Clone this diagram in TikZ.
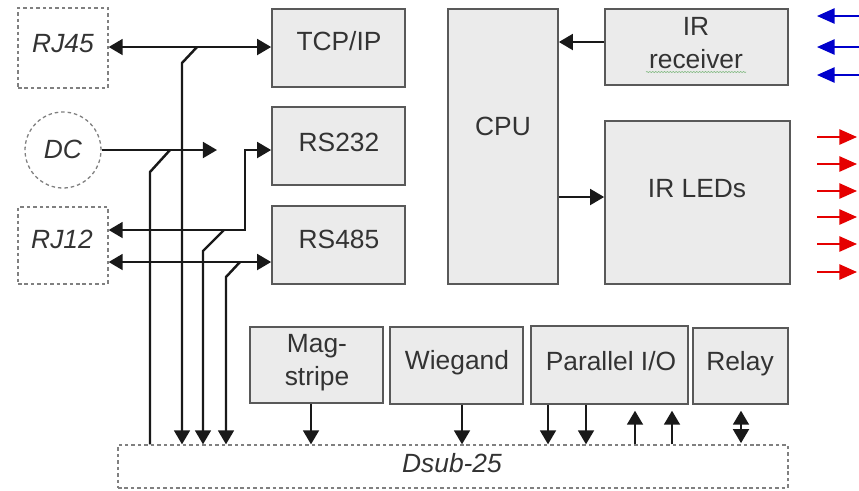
\documentclass[tikz,border=0pt]{standalone}
\usepackage{fontspec}
\setmainfont{Liberation Sans}
\usetikzlibrary{arrows.meta,fit,decorations.pathmorphing}

\begin{document}
\begin{tikzpicture}[x=0.03cm,y=-0.03cm,
  block/.style={draw=black!65, line width=1.4pt, fill=black!8, inner sep=0pt},
  port/.style={draw=black!50, line width=1.1pt, dash pattern=on 3pt off 2.5pt, inner sep=0pt},
  txt/.style={anchor=base, inner sep=0pt, text=black!80, align=center,
    font=\fontsize{22.5}{28}\selectfont},
  wire/.style={line width=2.1pt, black!90},
  link/.style={wire, -{Triangle[length=12pt,width=13.5pt]}},
  dlink/.style={wire, {Triangle[length=12pt,width=13.5pt]}-{Triangle[length=12pt,width=13.5pt]}},
  irin/.style={line width=1.5pt, blue!80!black, -{Triangle[length=15pt,width=13pt]}},
  irout/.style={line width=1.5pt, red!90!black, -{Triangle[length=15pt,width=13pt]}}]

  \useasboundingbox (0,0) rectangle (859,490);

  % Connectors on the left
  \node[port, fit={(18,8) (108,88)}] (rj45) {};
  \node[port, circle, minimum size=2.28cm] (dc) at (63,150) {};
  \node[port, fit={(18,207) (108,284)}] (rj12) {};
  \node[port, fit={(118,445) (788,488)}] (dsub) {};

  % Functional blocks
  \node[block, fit={(272,9) (405,87)}] (tcp) {};
  \node[block, fit={(272,107) (405,185)}] (rs232) {};
  \node[block, fit={(272,206) (405,284)}] (rs485) {};
  \node[block, fit={(448,9) (558,284)}] (cpu) {};
  \node[block, fit={(605,9) (788,85)}] (irrx) {};
  \node[block, fit={(605,121) (790,284)}] (irled) {};
  \node[block, fit={(250,327) (383,403)}] (mag) {};
  \node[block, fit={(390,327) (523,404)}] (wieg) {};
  \node[block, fit={(531,326) (688,404)}] (par) {};
  \node[block, fit={(693,328) (788,404)}] (relay) {};

  % Labels (base = last line)
  \node[txt, font=\fontsize{22.5}{28}\selectfont\itshape] (rj45lbl) at (63,52) {RJ45};
  \node[txt, font=\fontsize{22.5}{28}\selectfont\itshape] (dclbl) at (63,158) {DC};
  \node[txt, font=\fontsize{22.5}{28}\selectfont\itshape] (rj12lbl) at (62,248) {RJ12};
  \node[txt, font=\fontsize{22.5}{28}\selectfont\itshape] (dsublbl) at (452,472) {Dsub-25};
  \node[txt] (tcplbl) at (339,50) {TCP/IP};
  \node[txt] (rs232lbl) at (339,151) {RS232};
  \node[txt] (rs485lbl) at (339,248) {RS485};
  \node[txt] (cpulbl) at (503,135) {CPU};
  \node[txt] (irrxlbl) at (696,68) {IR\\receiver};
  \node[txt] (irledlbl) at (697,197) {IR LEDs};
  \node[txt] (maglbl) at (317,385) {Mag-\\stripe};
  \node[txt] (wieglbl) at (457,369) {Wiegand};
  \node[txt] (parlbl) at (611,370) {Parallel I/O};
  \node[txt] (relaylbl) at (740,370) {Relay};

  % spell check mark under "receiver"
  \draw[green!45!black!50, line width=0.5pt, decorate,
    decoration={snake, amplitude=0.5pt, segment length=2.5pt}] (646,72) -- (746,72);

  % Lines from the left connectors
  \draw[dlink] (rj45.east |- 0,47) -- (tcp.west |- 0,47);
  \draw[link] (197,47) -- (182,63) -- (dsub.north -| 182,0);
  \draw[link] (dc.east) -- (217,150);
  \draw[wire] (dsub.north -| 150,0) -- (150,172) -- (170,150);
  \draw[dlink] (rj12.east |- 0,230) -- (245,230) -- (245,150) -- (rs232.west |- 0,150);
  \draw[link] (224,230) -- (203,251) -- (dsub.north -| 203,0);
  \draw[dlink] (rj12.east |- 0,262) -- (rs485.west |- 0,262);
  \draw[link] (240,262) -- (226,277) -- (dsub.north -| 226,0);

  % CPU and IR parts
  \draw[link] (irrx.west |- 0,42) -- (cpu.east |- 0,42);
  \draw[link] (cpu.east |- 0,197) -- (irled.west |- 0,197);
  \foreach \y in {16,47,75}
    \draw[irin] (859,\y) -- (817,\y);
  \foreach \y in {137,164,191,217,244,272}
    \draw[irout] (817,\y) -- (857,\y);

  % Lines to the Dsub-25
  \draw[link] (mag.south -| 311,0) -- (dsub.north -| 311,0);
  \draw[link] (wieg.south -| 462,0) -- (dsub.north -| 462,0);
  \foreach \x in {548,586}
    \draw[link] (par.south -| \x,0) -- (dsub.north -| \x,0);
  \foreach \x in {635,672}
    \draw[link, shorten >=5pt] (dsub.north -| \x,0) -- (par.south -| \x,0);
  \draw[dlink, shorten <=5pt, shorten >=1pt] (relay.south -| 741,0) -- (dsub.north -| 741,0);

\end{tikzpicture}
\end{document}
